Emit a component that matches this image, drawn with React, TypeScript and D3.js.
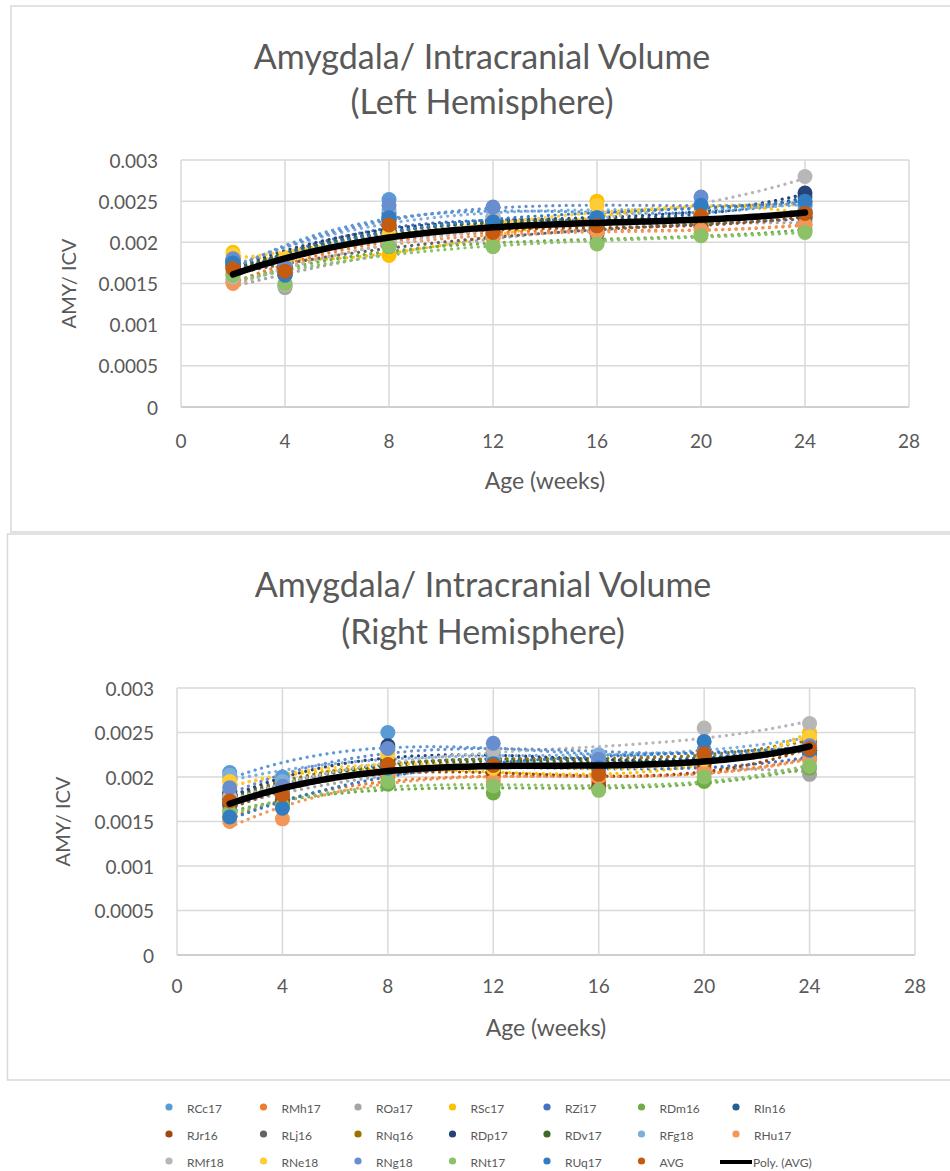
import React from "react";
import * as d3 from "d3";

// Scan ages (weeks)
const WEEKS = [2, 4, 8, 12, 16, 20, 24];

const SERIES_NAMES = [
  "RCc17", "RMh17", "ROa17", "RSc17", "RZi17", "RDm16", "RIn16",
  "RJr16", "RLj16", "RNq16", "RDp17", "RDv17", "RFg18", "RHu17",
  "RMf18", "RNe18", "RNg18", "RNt17", "RUq17", "AVG",
];

const SERIES_COLORS = [
  "#5B9BD5", "#ED7D31", "#A5A5A5", "#FFC000", "#4472C4", "#70AD47", "#255E91",
  "#9E480E", "#636363", "#997300", "#264478", "#43682B", "#7CAFDD", "#F1975A",
  "#B7B7B7", "#FFCD33", "#698ED0", "#8CC168", "#327DC2", "#C55A11",
];

// Amygdala / ICV, left hemisphere (one row per animal, last row = AVG)
const LEFT_VALUES = [
  [0.00178, 0.00172, 0.00252, 0.00230, 0.00228, 0.00245, 0.00248],
  [0.00152, 0.00170, 0.00205, 0.00210, 0.00212, 0.00218, 0.00220],
  [0.00155, 0.00145, 0.00195, 0.00205, 0.00215, 0.00220, 0.00225],
  [0.00188, 0.00175, 0.00184, 0.00205, 0.00250, 0.00225, 0.00240],
  [0.00172, 0.00162, 0.00235, 0.00225, 0.00220, 0.00230, 0.00238],
  [0.00162, 0.00148, 0.00205, 0.00195, 0.00200, 0.00210, 0.00215],
  [0.00175, 0.00162, 0.00230, 0.00220, 0.00225, 0.00235, 0.00255],
  [0.00168, 0.00168, 0.00220, 0.00208, 0.00215, 0.00225, 0.00230],
  [0.00170, 0.00160, 0.00195, 0.00215, 0.00210, 0.00220, 0.00230],
  [0.00172, 0.00175, 0.00220, 0.00215, 0.00222, 0.00225, 0.00235],
  [0.00178, 0.00170, 0.00228, 0.00225, 0.00230, 0.00235, 0.00260],
  [0.00174, 0.00170, 0.00225, 0.00222, 0.00225, 0.00230, 0.00235],
  [0.00180, 0.00175, 0.00240, 0.00230, 0.00235, 0.00245, 0.00245],
  [0.00150, 0.00165, 0.00200, 0.00208, 0.00212, 0.00215, 0.00222],
  [0.00158, 0.00148, 0.00200, 0.00230, 0.00220, 0.00245, 0.00280],
  [0.00185, 0.00180, 0.00210, 0.00220, 0.00245, 0.00235, 0.00248],
  [0.00180, 0.00170, 0.00245, 0.00243, 0.00230, 0.00255, 0.00245],
  [0.00160, 0.00150, 0.00195, 0.00195, 0.00198, 0.00208, 0.00212],
  [0.00175, 0.00160, 0.00230, 0.00225, 0.00230, 0.00245, 0.00250],
  [0.00168, 0.00165, 0.00221, 0.00212, 0.00220, 0.00232, 0.00235],
];

// Amygdala / ICV, right hemisphere
const RIGHT_VALUES = [
  [0.00205, 0.00200, 0.00250, 0.00225, 0.00220, 0.00230, 0.00235],
  [0.00155, 0.00170, 0.00200, 0.00200, 0.00195, 0.00210, 0.00220],
  [0.00170, 0.00175, 0.00210, 0.00210, 0.00205, 0.00220, 0.00203],
  [0.00198, 0.00185, 0.00220, 0.00205, 0.00200, 0.00215, 0.00250],
  [0.00180, 0.00175, 0.00210, 0.00215, 0.00210, 0.00205, 0.00225],
  [0.00162, 0.00170, 0.00192, 0.00182, 0.00188, 0.00195, 0.00210],
  [0.00175, 0.00185, 0.00220, 0.00220, 0.00215, 0.00225, 0.00235],
  [0.00170, 0.00172, 0.00215, 0.00205, 0.00190, 0.00215, 0.00230],
  [0.00168, 0.00180, 0.00215, 0.00210, 0.00212, 0.00220, 0.00230],
  [0.00180, 0.00190, 0.00220, 0.00220, 0.00215, 0.00230, 0.00240],
  [0.00182, 0.00188, 0.00235, 0.00218, 0.00215, 0.00225, 0.00230],
  [0.00178, 0.00188, 0.00218, 0.00215, 0.00215, 0.00222, 0.00230],
  [0.00202, 0.00195, 0.00230, 0.00220, 0.00225, 0.00230, 0.00245],
  [0.00150, 0.00153, 0.00205, 0.00195, 0.00200, 0.00205, 0.00220],
  [0.00178, 0.00182, 0.00225, 0.00230, 0.00220, 0.00255, 0.00260],
  [0.00195, 0.00190, 0.00225, 0.00210, 0.00205, 0.00220, 0.00245],
  [0.00188, 0.00190, 0.00232, 0.00238, 0.00220, 0.00230, 0.00235],
  [0.00160, 0.00168, 0.00195, 0.00190, 0.00185, 0.00200, 0.00212],
  [0.00155, 0.00165, 0.00210, 0.00215, 0.00210, 0.00240, 0.00230],
  [0.00173, 0.00180, 0.00214, 0.00213, 0.00203, 0.00226, 0.00232],
];

const X_TICKS = [0, 4, 8, 12, 16, 20, 24, 28];
const Y_TICKS = [0, 0.0005, 0.001, 0.0015, 0.002, 0.0025, 0.003];
const Y_TICK_LABELS = ["0", "0.0005", "0.001", "0.0015", "0.002", "0.0025", "0.003"];

const TITLE_LINE = "Amygdala/ Intracranial Volume";
const HEMISPHERES = ["(Left Hemisphere)", "(Right Hemisphere)"];
const X_TITLE = "Age (weeks)";
const Y_TITLE = "AMY/ ICV";
const TREND_LABEL = "Poly. (AVG)";

const FONT = "Lato, 'Open Sans', sans-serif";
const TEXT = "#595959";
const GRID = "#d9d9d9";

// Least-squares polynomial fit (Excel "Poly." trendline, order 3)
function polyFit(xs: number[], ys: number[], order: number): number[] {
  const n = order + 1;
  const A: number[][] = Array.from({ length: n }, () => new Array(n + 1).fill(0));
  for (let r = 0; r < n; r++) {
    for (let c = 0; c < n; c++) {
      A[r][c] = d3.sum(xs, (x) => Math.pow(x, r + c));
    }
    A[r][n] = d3.sum(xs, (x, i) => ys[i] * Math.pow(x, r));
  }
  for (let i = 0; i < n; i++) {
    let p = i;
    for (let k = i + 1; k < n; k++) if (Math.abs(A[k][i]) > Math.abs(A[p][i])) p = k;
    [A[i], A[p]] = [A[p], A[i]];
    for (let k = i + 1; k < n; k++) {
      const f = A[k][i] / A[i][i];
      for (let j = i; j <= n; j++) A[k][j] -= f * A[i][j];
    }
  }
  const coef = new Array(n).fill(0);
  for (let i = n - 1; i >= 0; i--) {
    let s = A[i][n];
    for (let j = i + 1; j < n; j++) s -= A[i][j] * coef[j];
    coef[i] = s / A[i][i];
  }
  return coef;
}

function trendPoints(values: number[]): [number, number][] {
  const coef = polyFit(WEEKS, values, 3);
  const x0 = d3.min(WEEKS)!;
  const x1 = d3.max(WEEKS)!;
  return d3.range(x0, x1 + 0.001, 0.25).map((x) => [
    x,
    coef.reduce((s, c, i) => s + c * Math.pow(x, i), 0),
  ]);
}

type Layout = {
  box: { x: number; y: number; w: number; h: number };
  plot: { left: number; right: number; top: number; bottom: number };
  titleY: [number, number];
  yTitleX: number;
  xTickY: number;
  xTitleY: number;
};

const LAYOUTS: Layout[] = [
  {
    box: { x: 11, y: 6, w: 960, h: 526 },
    plot: { left: 181, right: 909, top: 160, bottom: 407 },
    titleY: [55, 100],
    yTitleX: 68,
    xTickY: 440,
    xTitleY: 480,
  },
  {
    box: { x: 7.5, y: 534, w: 960, h: 546 },
    plot: { left: 177, right: 915, top: 688, bottom: 955 },
    titleY: [583, 630],
    yTitleX: 62,
    xTickY: 985,
    xTitleY: 1027,
  },
];

function Panel({ layout, values, subtitle }: { layout: Layout; values: number[][]; subtitle: string }) {
  const { plot } = layout;
  const x = d3.scaleLinear().domain([0, 28]).range([plot.left, plot.right]);
  const y = d3.scaleLinear().domain([0, 0.003]).range([plot.bottom, plot.top]);
  const line = d3
    .line<[number, number]>()
    .x((d) => x(d[0]))
    .y((d) => y(d[1]))
    .curve(d3.curveLinear);
  const plotMid = (plot.left + plot.right) / 2;
  const titleX = plotMid - 63;
  const avgIndex = SERIES_NAMES.indexOf("AVG");

  return (
    <g>
      <rect
        x={layout.box.x}
        y={layout.box.y}
        width={layout.box.w}
        height={layout.box.h}
        fill="#fff"
        stroke={GRID}
        strokeWidth={1.5}
      />
      <text x={titleX} y={layout.titleY[0]} textAnchor="middle" dominantBaseline="central" fontSize={34} fill={TEXT}>
        {TITLE_LINE}
      </text>
      <text x={titleX} y={layout.titleY[1]} textAnchor="middle" dominantBaseline="central" fontSize={34} fill={TEXT}>
        {subtitle}
      </text>

      {/* grid */}
      {Y_TICKS.map((t) => (
        <line key={"gy" + t} x1={plot.left} x2={plot.right} y1={y(t)} y2={y(t)} stroke={t === 0 ? "#bfbfbf" : GRID} strokeWidth={1.5} />
      ))}
      {X_TICKS.map((t) => (
        <line key={"gx" + t} x1={x(t)} x2={x(t)} y1={plot.top} y2={plot.bottom} stroke={GRID} strokeWidth={1.5} />
      ))}

      {/* tick labels */}
      {Y_TICKS.map((t, i) => (
        <text key={"ty" + t} x={plot.left - 23} y={y(t)} textAnchor="end" dominantBaseline="central" fontSize={19} fill={TEXT}>
          {Y_TICK_LABELS[i]}
        </text>
      ))}
      {X_TICKS.map((t) => (
        <text key={"tx" + t} x={x(t)} y={layout.xTickY} textAnchor="middle" dominantBaseline="central" fontSize={19} fill={TEXT}>
          {t}
        </text>
      ))}
      <text x={plotMid} y={layout.xTitleY} textAnchor="middle" dominantBaseline="central" fontSize={23} fill={TEXT}>
        {X_TITLE}
      </text>
      <text
        transform={`translate(${layout.yTitleX},${(plot.top + plot.bottom) / 2}) rotate(-90)`}
        textAnchor="middle"
        dominantBaseline="central"
        fontSize={20}
        fill={TEXT}
      >
        {Y_TITLE}
      </text>

      {/* dotted polynomial trendlines per animal */}
      {values.map((vals, i) =>
        i === avgIndex ? null : (
          <path
            key={"tr" + i}
            d={line(trendPoints(vals)) || ""}
            fill="none"
            stroke={SERIES_COLORS[i]}
            strokeWidth={3.2}
            strokeLinecap="round"
            strokeDasharray="0.1 6.6"
          />
        )
      )}

      {/* markers */}
      {values.map((vals, i) =>
        vals.map((v, j) => (
          <circle key={"m" + i + "-" + j} cx={x(WEEKS[j])} cy={y(v)} r={7.5} fill={SERIES_COLORS[i]} />
        ))
      )}

      {/* AVG polynomial trendline */}
      <path
        d={line(trendPoints(values[avgIndex])) || ""}
        fill="none"
        stroke="#000"
        strokeWidth={6.5}
        strokeLinecap="round"
      />
    </g>
  );
}

function Legend() {
  const colX = d3.range(7).map((i) => 169 + i * 94.5);
  const rowY = [1108, 1135, 1162];
  const items = [...SERIES_NAMES, TREND_LABEL];
  return (
    <g>
      {items.map((name, k) => {
        const col = k % 7;
        const row = Math.floor(k / 7);
        const mx = colX[col];
        const my = rowY[row];
        if (name === TREND_LABEL) {
          return (
            <g key={name}>
              <line x1={mx - 16} x2={mx + 16} y1={my} y2={my} stroke="#000" strokeWidth={4} />
              <text x={mx + 17} y={my} dominantBaseline="central" fontSize={12} fill={TEXT}>
                {name}
              </text>
            </g>
          );
        }
        return (
          <g key={name}>
            <circle cx={mx} cy={my - 1} r={3.6} fill={SERIES_COLORS[k]} />
            <text x={mx + 18} y={my} dominantBaseline="central" fontSize={12} fill={TEXT}>
              {name}
            </text>
          </g>
        );
      })}
    </g>
  );
}

export default function App() {
  return (
    <svg
      width={950}
      height={1171}
      style={{ position: "absolute", left: 0, top: 0, fontFamily: FONT, background: "#fff" }}
    >
      <rect width={950} height={1171} fill="#fff" />
      <Panel layout={LAYOUTS[0]} values={LEFT_VALUES} subtitle={HEMISPHERES[0]} />
      <Panel layout={LAYOUTS[1]} values={RIGHT_VALUES} subtitle={HEMISPHERES[1]} />
      <Legend />
    </svg>
  );
}
